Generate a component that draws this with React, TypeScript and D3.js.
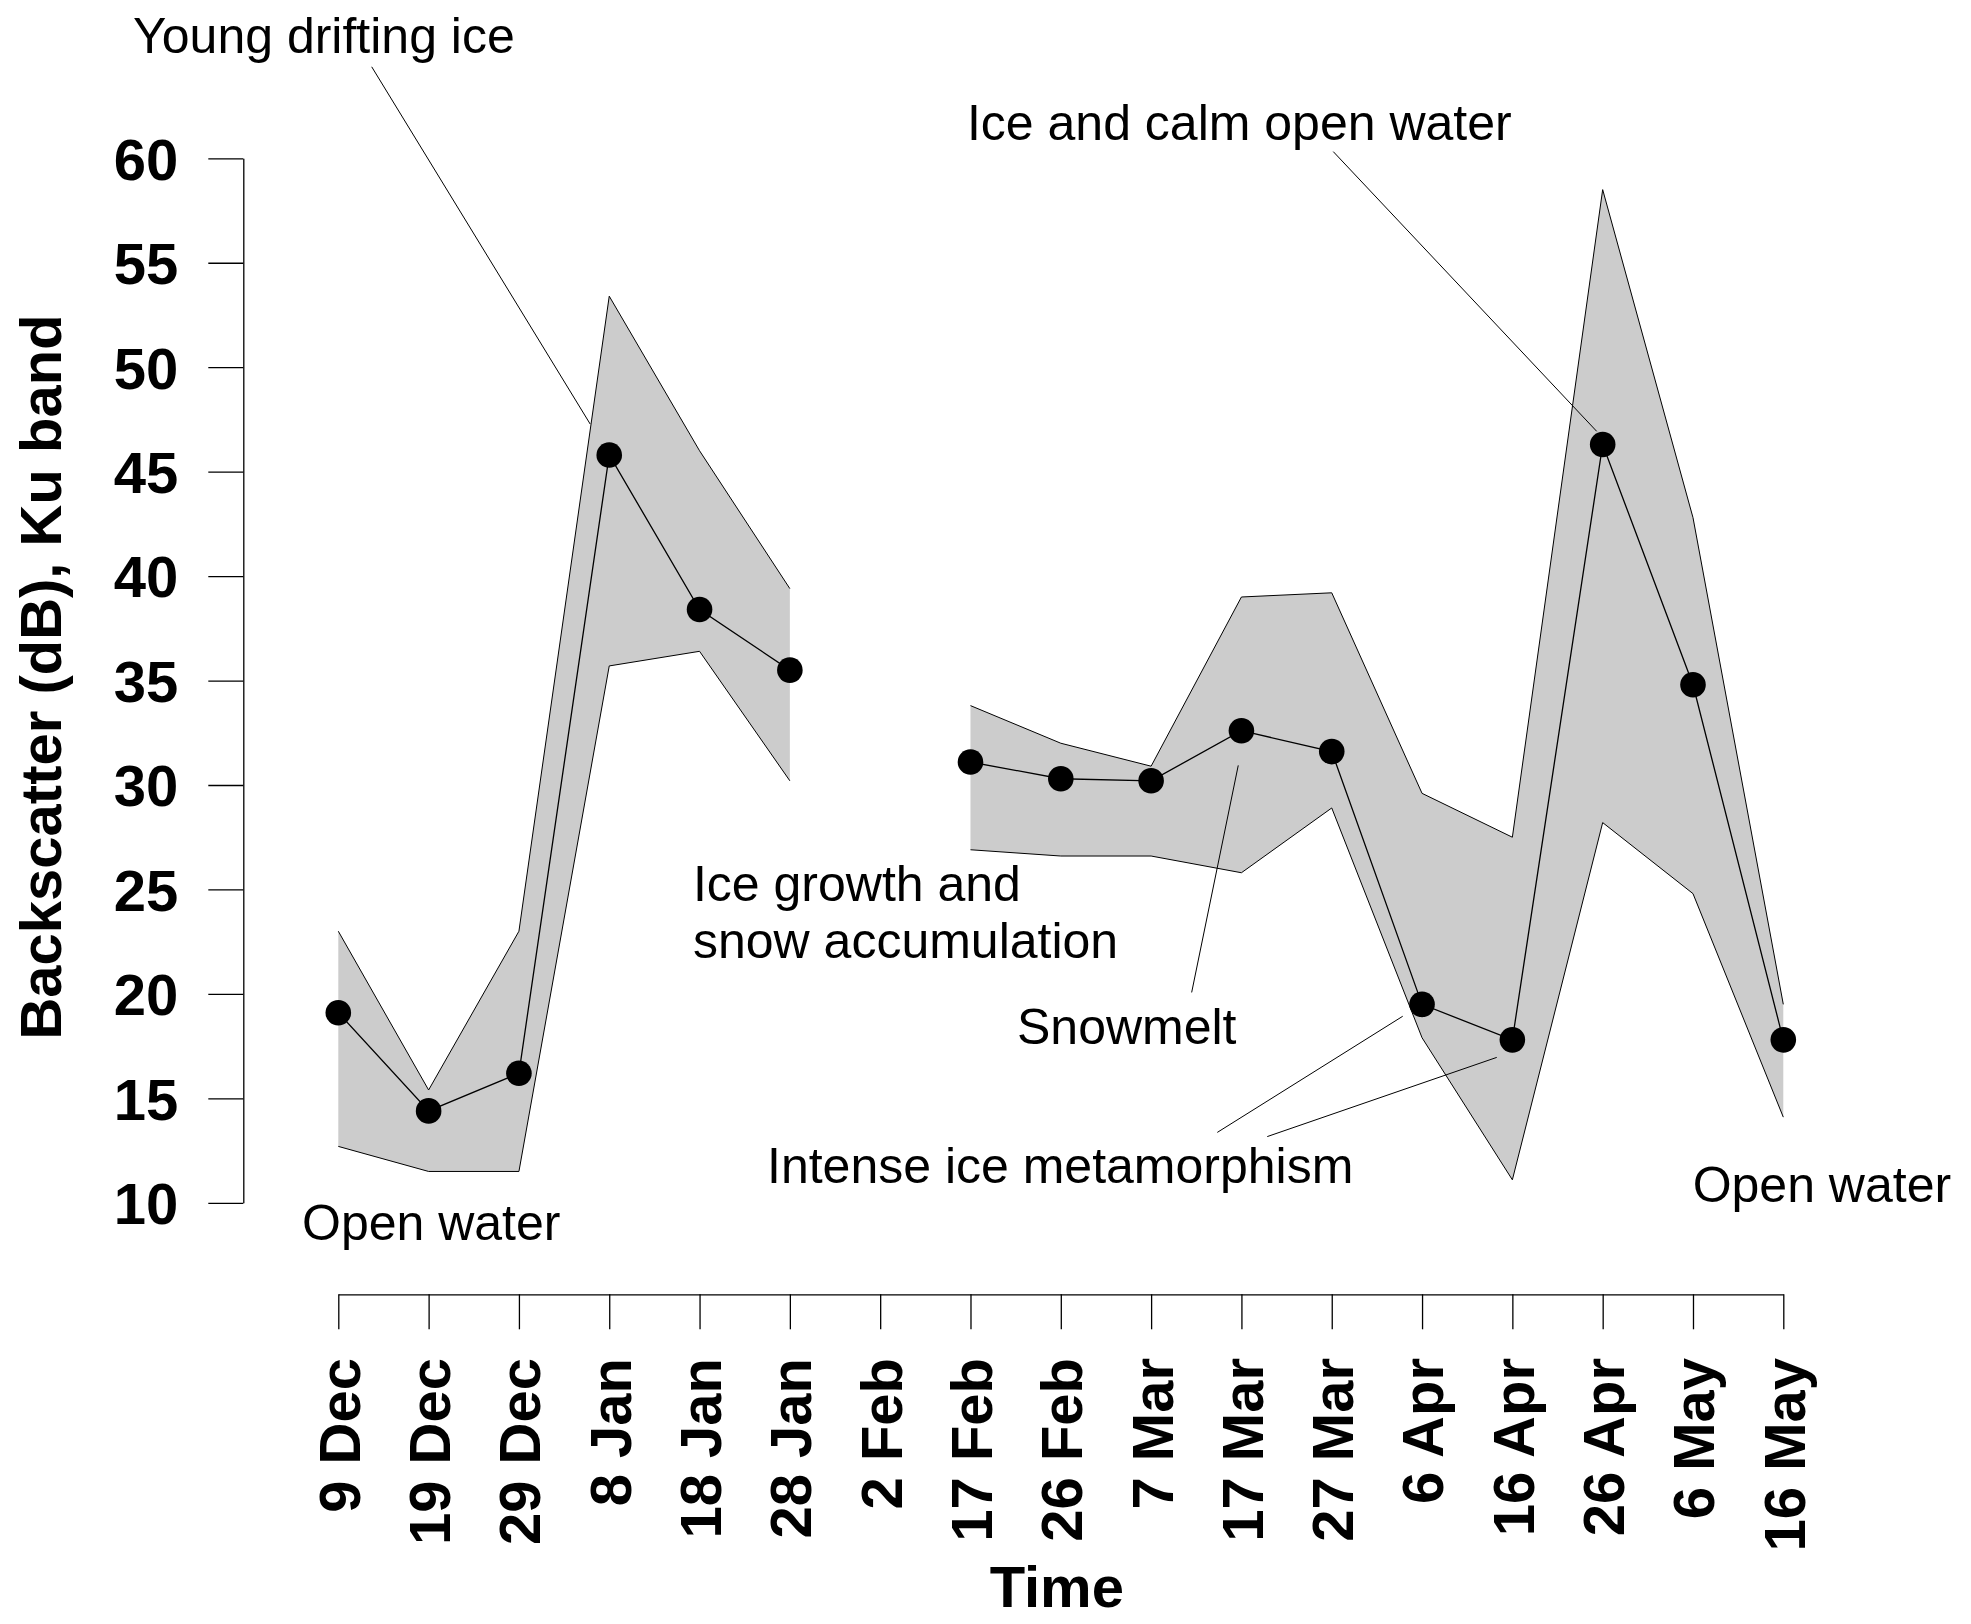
import React, { useEffect, useRef } from 'react';
import * as d3 from 'd3';

// sampling dates (2 Feb has no observation)
const dates = [
  '9 Dec', '19 Dec', '29 Dec', '8 Jan', '18 Jan', '28 Jan', '2 Feb', '17 Feb', '26 Feb',
  '7 Mar', '17 Mar', '27 Mar', '6 Apr', '16 Apr', '26 Apr', '6 May', '16 May',
];
const meanValues = [19.1, 14.4, 16.2, 45.8, 38.4, 35.5, null, 31.1, 30.3, 30.2, 32.6, 31.6, 19.5, 17.8, 46.3, 34.8, 17.8];
const upperValues = [23.0, 15.4, 23.0, 53.4, 46.0, 39.4, null, 33.8, 32.0, 30.9, 39.0, 39.2, 29.6, 27.5, 58.5, 42.8, 19.5];
const lowerValues = [12.7, 11.5, 11.5, 35.7, 36.4, 30.2, null, 26.9, 26.6, 26.6, 25.8, 28.9, 17.9, 11.1, 28.2, 24.8, 14.1];
const yTicks = [10, 15, 20, 25, 30, 35, 40, 45, 50, 55, 60];

// annotations in data units: [date index, dB]
const notes = [
  { lines: ['Young drifting ice'], at: [-2.273, 65.03] },
  { lines: ['Ice and calm open water'], at: [6.961, 60.88] },
  { lines: ['Ice growth and', 'snow accumulation'], at: [3.927, 24.45] },
  { lines: ['Snowmelt'], at: [7.515, 17.6] },
  { lines: ['Intense ice metamorphism'], at: [4.747, 10.93] },
  { lines: ['Open water'], at: [-0.402, 8.22] },
  { lines: ['Open water'], at: [14.996, 10.05] },
];
const leaders = [
  [[0.37, 64.38], [2.789, 47.28]],
  [[11.017, 60.32], [13.934, 46.93]],
  [[9.965, 30.94], [9.449, 20.07]],
  [[9.733, 13.37], [11.786, 18.93]],
  [[10.286, 13.17], [12.827, 16.96]],
];

const W = 1971;
const H = 1624;
const FONT = '"Liberation Sans", Arial, Helvetica, sans-serif';

type Row = { date: string; mean: number | null; hi: number | null; lo: number | null };

const Chart = () => {
  const ref = useRef<SVGSVGElement | null>(null);

  useEffect(() => {
    if (!ref.current) return;
    const svg = d3.select(ref.current);
    svg.selectAll('*').remove();

    const x = d3.scalePoint<string>().domain(dates).range([338.3, 1783.3]);
    const xi = d3.scaleLinear().domain([0, dates.length - 1]).range(x.range());
    const y = d3.scaleLinear().domain([10, 60]).range([1202.8, 158.3]);

    const rows: Row[] = dates.map((d, i) => ({
      date: d,
      mean: meanValues[i],
      hi: upperValues[i],
      lo: lowerValues[i],
    }));

    const px = (d: Row) => x(d.date) as number;

    // range band
    const band = d3
      .area<Row>()
      .defined((d) => d.mean != null)
      .x(px)
      .y0((d) => y(d.lo as number))
      .y1((d) => y(d.hi as number));
    svg.append('path').attr('d', band(rows)).attr('fill', '#cccccc').attr('stroke', 'none');

    const edge = (key: 'hi' | 'lo' | 'mean') =>
      d3
        .line<Row>()
        .defined((d) => d[key] != null)
        .x(px)
        .y((d) => y(d[key] as number));

    svg.append('path').attr('d', edge('hi')(rows)).attr('fill', 'none').attr('stroke', '#000').attr('stroke-width', 1);
    svg.append('path').attr('d', edge('lo')(rows)).attr('fill', 'none').attr('stroke', '#000').attr('stroke-width', 1);
    svg.append('path').attr('d', edge('mean')(rows)).attr('fill', 'none').attr('stroke', '#000').attr('stroke-width', 1.3);

    svg
      .append('g')
      .selectAll('circle')
      .data(rows.filter((d) => d.mean != null))
      .enter()
      .append('circle')
      .attr('cx', px)
      .attr('cy', (d) => y(d.mean as number))
      .attr('r', 12.8)
      .attr('fill', '#000');

    // y axis
    const gy = svg
      .append('g')
      .attr('transform', 'translate(243.3,0)')
      .call(d3.axisLeft(y).tickValues(yTicks).tickSize(35).tickSizeOuter(0).tickPadding(30));
    gy.attr('font-family', FONT).attr('font-size', 58).attr('font-weight', 'bold');
    gy.selectAll('path, line').attr('stroke', '#000').attr('stroke-width', 1.3);
    gy.selectAll('text').attr('fill', '#000').attr('dy', '0.36em');

    // x axis
    const gx = svg
      .append('g')
      .attr('transform', 'translate(0,1294.3)')
      .call(d3.axisBottom(x).tickSize(35).tickSizeOuter(0));
    gx.attr('font-family', FONT).attr('font-size', 58).attr('font-weight', 'bold');
    gx.selectAll('path, line').attr('stroke', '#000').attr('stroke-width', 1.3);
    gx.selectAll('text')
      .attr('fill', '#000')
      .attr('transform', 'rotate(-90)')
      .attr('x', -63.7)
      .attr('y', 0)
      .attr('dy', '0.36em')
      .attr('text-anchor', 'end');

    // axis titles
    svg
      .append('text')
      .attr('x', (x.range()[0] + x.range()[1]) / 2 - 4)
      .attr('y', 1607)
      .attr('text-anchor', 'middle')
      .attr('font-family', FONT)
      .attr('font-size', 58)
      .attr('font-weight', 'bold')
      .text('Time');

    svg
      .append('text')
      .attr('transform', 'translate(61,677) rotate(-90)')
      .attr('text-anchor', 'middle')
      .attr('font-family', FONT)
      .attr('font-size', 58)
      .attr('font-weight', 'bold')
      .text('Backscatter (dB), Ku band');

    // leader lines
    svg
      .append('g')
      .selectAll('line')
      .data(leaders)
      .enter()
      .append('line')
      .attr('x1', (d) => xi(d[0][0]))
      .attr('y1', (d) => y(d[0][1]))
      .attr('x2', (d) => xi(d[1][0]))
      .attr('y2', (d) => y(d[1][1]))
      .attr('stroke', '#000')
      .attr('stroke-width', 1);

    // annotation text
    const t = svg
      .append('g')
      .attr('font-family', FONT)
      .attr('font-size', 50)
      .selectAll('text')
      .data(notes)
      .enter()
      .append('text')
      .attr('x', (d) => xi(d.at[0]))
      .attr('y', (d) => y(d.at[1]));
    t.selectAll('tspan')
      .data((d) => d.lines.map((l) => ({ l, x: xi(d.at[0]) })))
      .enter()
      .append('tspan')
      .attr('x', (d) => d.x)
      .attr('dy', (d, i) => (i === 0 ? 0 : 57.3))
      .text((d) => d.l);
  }, []);

  return (
    <svg
      ref={ref}
      width={W}
      height={H}
      style={{ position: 'absolute', left: 0, top: 0, background: '#fff' }}
    />
  );
};

export default function App() {
  return <Chart />;
}
